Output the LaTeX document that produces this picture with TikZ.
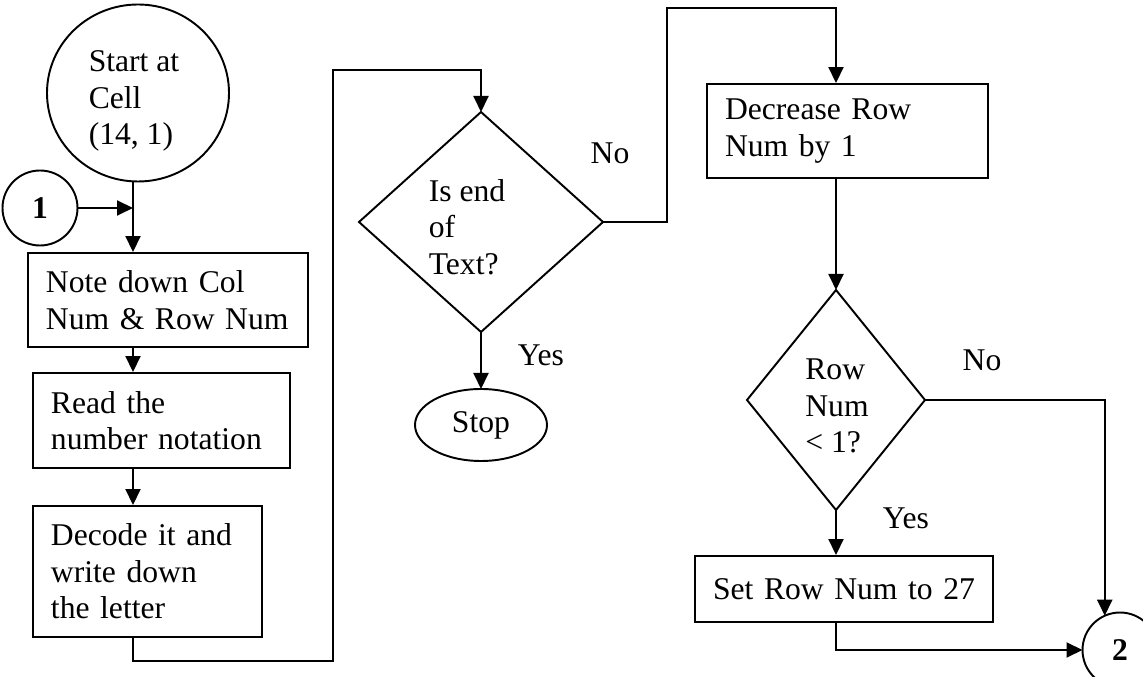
\documentclass[tikz,border=0pt]{standalone}
\usepackage{fontspec}
\setmainfont{Liberation Serif}
\usepackage{tikz}
\usetikzlibrary{shapes.geometric, arrows.meta, positioning}
\newcommand{\flowfont}{\fontsize{18}{20.8}\selectfont}
\tikzset{
  procbox/.style={rectangle, draw, line width=1.1pt, align=left,
    inner xsep=3.6mm, inner ysep=0pt, font=\flowfont},
  decision/.style={diamond, draw, line width=1.1pt, inner sep=0pt, outer sep=0pt},
  terminal/.style={ellipse, draw, line width=1.1pt, inner sep=0pt,
    outer sep=0pt, font=\flowfont},
  connector/.style={circle, draw, line width=1.1pt, minimum size=15mm,
    inner sep=0pt, outer sep=0pt, font=\flowfont\bfseries},
  plaintext/.style={align=left, inner sep=0pt, font=\flowfont},
  arrow/.style={-{Triangle[length=3.2mm,width=3mm]}, line width=1.1pt},
  line/.style={line width=1.1pt}
}

\begin{document}
\begin{tikzpicture}[x=0.2mm, y=-0.2mm]
  \useasboundingbox (0,0) rectangle (1143,677);
  \clip (0,0) rectangle (1143,677);
  % left column
  \node[terminal, minimum width=36.4mm, minimum height=35.4mm] (start) at (138,93) {};
  \node[plaintext] (starttext) at (134,101) {Start at\\Cell\\(14, 1)};
  \node[connector] (conn1) at (40,208) {1};
  \coordinate (lcol) at (133,0);
  \node[procbox, text width=48.8mm, minimum height=18.8mm] (note) at (168,300) {Note down Col\\Num \& Row Num};
  \node[procbox, text width=44.2mm, minimum height=19mm] (read) at (161.5,420.5) {Read the\\number notation};
  \node[procbox, text width=38.6mm, minimum height=26.2mm] (decode) at (147.5,571.5) {Decode it and\\write down\\the letter};
  % middle column
  \node[decision, minimum width=48.8mm, minimum height=44mm] (endq) at (481,222) {};
  \node[plaintext] (endqtext) at (467,227) {Is end\\of\\Text?};
  \node[terminal, minimum width=26.4mm, minimum height=14.4mm] (stop) at (481,425) {Stop};
  \coordinate (loopa) at (333,661);
  \coordinate (loopb) at (333,70);
  \coordinate (loopc) at (667,8);
  % right column
  \node[procbox, text width=49mm, minimum height=18.8mm] (decr) at (847.5,131) {Decrease Row\\Num by 1};
  \node[decision, minimum width=35.6mm, minimum height=44mm] (rowq) at (836,400) {};
  \node[plaintext] (rowqtext) at (837,406) {Row\\Num\\< 1?};
  \node[procbox, align=center, inner xsep=1mm, text width=57.6mm, minimum height=13.2mm] (setrow) at (844,589) {Set Row Num to 27};
  \node[connector] (conn2) at (1120,650) {2};
  % branch labels
  \node[plaintext] (nolabela) at (610,153) {No};
  \node[plaintext] (yeslabela) at (541,355) {Yes};
  \node[plaintext] (nolabelb) at (982,360) {No};
  \node[plaintext] (yeslabelb) at (906,518) {Yes};

  \draw[arrow] (start.south -| lcol) -- (note.north -| lcol);
  \draw[arrow] (conn1.east) -- (conn1.east -| lcol);
  \draw[arrow] (note.south -| lcol) -- (read.north -| lcol);
  \draw[arrow] (read.south -| lcol) -- (decode.north -| lcol);
  \draw[arrow] (decode.south -| lcol) |- (loopa) -- (loopb) -| (endq.north);
  \draw[arrow] (endq.south) -- (stop.north);
  \draw[arrow] (endq.east) -| (loopc) -| (decr.north -| rowq.north);
  \draw[arrow] (decr.south -| rowq.north) -- (rowq.north);
  \draw[arrow] (rowq.south) -- (setrow.north -| rowq.south);
  \draw[arrow] (rowq.east) -| (conn2.114);
  \draw[arrow] (setrow.south -| rowq.south) |- (conn2.west);
\end{tikzpicture}
\end{document}
